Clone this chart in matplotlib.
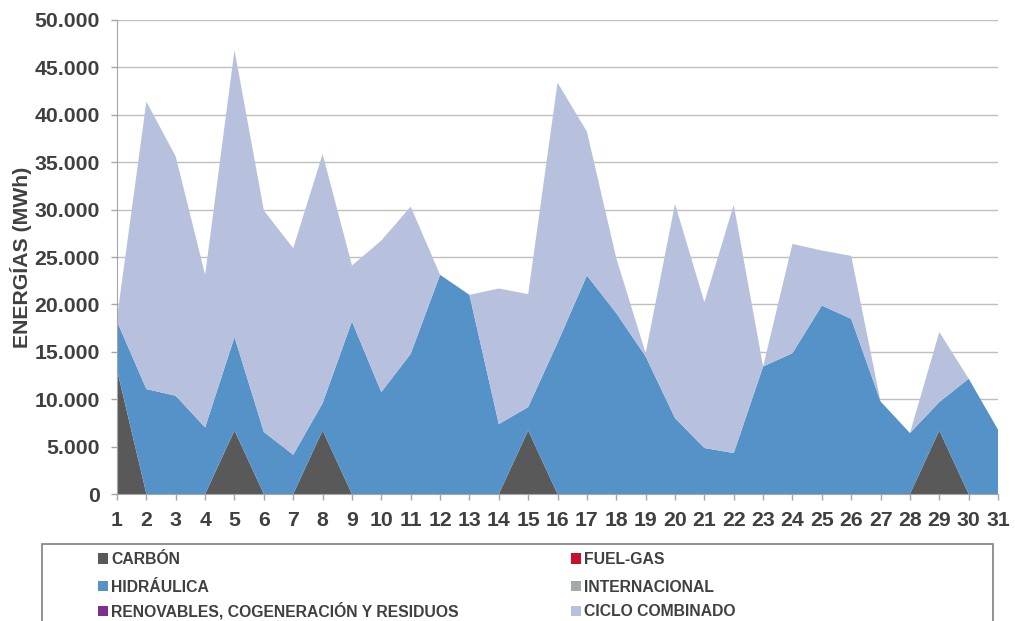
import numpy as np
import matplotlib
matplotlib.use("Agg")
import matplotlib.pyplot as plt
from matplotlib.patches import Rectangle

plt.rcParams['font.family'] = ['Liberation Sans', 'DejaVu Sans']

# days of the month
dias = list(range(1, 32))

# energies in MWh
carbon = [13100, 0, 0, 0, 6700, 0, 0, 6700, 0, 0, 0, 0, 0, 0, 6700, 0,
          0, 0, 0, 0, 0, 0, 0, 0, 0, 0, 0, 0, 6700, 0, 0]
fuel_gas = [0] * 31
# cumulative top of the blue band (carbon + hydro)
hidro_top = [18200, 11070, 10360, 7020, 16550, 6540, 4140, 9590, 18200, 10750,
             14790, 23120, 21010, 7380, 9170, 15950, 23050, 19080, 14510, 8010,
             4850, 4320, 13450, 14860, 19880, 18480, 9760, 6430, 9700, 12160, 6780]
internacional = [0] * 31
renovables = [0] * 31
total = [18600, 41390, 35590, 23120, 46840, 29900, 25930, 35870, 24100, 26740,
         30320, 23120, 21010, 21680, 21080, 43390, 38230, 24880, 14860, 30600,
         20240, 30500, 13450, 26390, 25680, 25120, 9760, 6430, 17080, 12160, 6780]

hidraulica = [h - c for h, c in zip(hidro_top, carbon)]
ciclo = [t - h for t, h in zip(total, hidro_top)]

labels = ["CARBÓN", "FUEL-GAS", "HIDRÁULICA", "INTERNACIONAL",
          "RENOVABLES, COGENERACIÓN Y RESIDUOS", "CICLO COMBINADO"]
colors = ["#595959", "#C8102E", "#5592C8", "#A3A8A8", "#7E2F8E", "#B7C1DE"]

fig = plt.figure(figsize=(10.15, 6.21), dpi=100)
ax = fig.add_axes([0.1153, 0.2045, 0.8680, 0.7633])

polys = ax.stackplot(dias, carbon, fuel_gas, hidraulica, internacional,
                     renovables, ciclo, colors=colors, labels=labels, lw=0)

txt = "#404040"
ax.set_xlim(1, 31)
ax.set_ylim(0, 50000)
ax.set_xticks(dias)
ax.set_yticks(np.arange(0, 50001, 5000))
ax.set_yticklabels([f"{v:,}".replace(",", ".") for v in range(0, 50001, 5000)])
ax.tick_params(axis='both', labelsize=15.3, colors="#A6A6A6", labelcolor=txt, length=4.3, width=1)
ax.tick_params(axis='x', pad=8)
ax.tick_params(axis='y', pad=8)
for lab in ax.get_xticklabels() + ax.get_yticklabels():
    lab.set_fontweight('bold')
ax.grid(axis='y', color="#BFBFBF", lw=1)
ax.set_axisbelow(True)
for s in ['top', 'right']:
    ax.spines[s].set_visible(False)
ax.spines['left'].set_color("#A6A6A6")
ax.spines['bottom'].set_color("#A6A6A6")
ax.set_ylabel("ENERGÍAS (MWh)", fontsize=15.3, fontweight='bold', color=txt, labelpad=2)

# legend box (runs off the bottom edge)
fig.add_artist(Rectangle((42 / 1015, -0.05), (993 - 42) / 1015, 0.05 + (621 - 544) / 621,
                         transform=fig.transFigure, fill=False, ec="#7F7F7F", lw=1.2))

# one small legend per entry, anchored at its bottom so the baselines line up
# (row by row: CARBÓN | FUEL-GAS, HIDRÁULICA | INTERNACIONAL, RENOVABLES | CICLO)
col_x = [98, 571]
row_bottom = [567, 594.5, 619.5]
for i, (p, lab) in enumerate(zip(polys, labels)):
    leg = fig.legend(handles=[p], labels=[lab], loc='lower left',
                     bbox_to_anchor=(col_x[i % 2] / 1015, 1 - row_bottom[i // 2] / 621),
                     borderaxespad=0, borderpad=0, frameon=False, fontsize=11.3,
                     handlelength=0.62, handleheight=0.62, handletextpad=0.22)
    for t in leg.get_texts():
        t.set_color(txt)
        t.set_fontweight('bold')

fig.savefig("out.png", dpi=100)
